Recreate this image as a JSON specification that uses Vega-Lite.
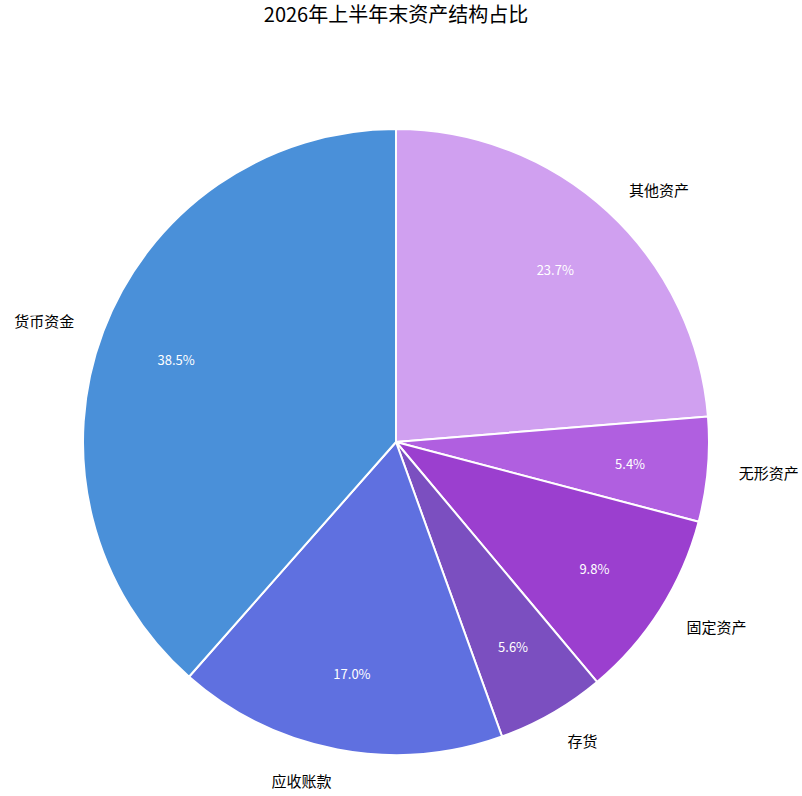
{
  "$schema": "https://vega.github.io/schema/vega-lite/v6.json",
  "width": 792,
  "height": 708,
  "autosize": {"type": "none"},
  "padding": {"left": 0, "top": 88, "right": 10, "bottom": 0},
  "background": "white",
  "title": {
    "text": "2026年上半年末资产结构占比",
    "font": "Noto Sans CJK SC",
    "fontSize": 20,
    "fontWeight": "normal",
    "color": "#000000",
    "anchor": "middle",
    "offset": 62
  },
  "data": {
    "values": [
      {"项目": "其他资产", "占比": 0.237, "序号": 1},
      {"项目": "无形资产", "占比": 0.054, "序号": 2},
      {"项目": "固定资产", "占比": 0.098, "序号": 3},
      {"项目": "存货", "占比": 0.056, "序号": 4},
      {"项目": "应收账款", "占比": 0.170, "序号": 5},
      {"项目": "货币资金", "占比": 0.385, "序号": 6}
    ]
  },
  "encoding": {
    "theta": {"field": "占比", "type": "quantitative", "stack": true},
    "order": {"field": "序号", "type": "quantitative"}
  },
  "layer": [
    {
      "mark": {"type": "arc", "outerRadius": 313, "stroke": "white", "strokeWidth": 2},
      "encoding": {
        "color": {
          "field": "项目",
          "type": "nominal",
          "scale": {
            "domain": ["货币资金", "应收账款", "存货", "固定资产", "无形资产", "其他资产"],
            "range": ["#4a90d9", "#5f70e0", "#7b4fc0", "#9b3fcf", "#b05fe0", "#d0a0f0"]
          },
          "legend": null
        }
      }
    },
    {
      "mark": {"type": "text", "radius": 235, "fill": "white", "font": "Noto Sans CJK SC", "fontSize": 13, "baseline": "middle", "align": "center", "dy": 2},
      "encoding": {
        "detail": {"field": "项目", "type": "nominal"},
        "text": {"field": "占比", "type": "quantitative", "format": ".1%"}
      }
    },
    {
      "mark": {
        "type": "text",
        "radius": 344,
        "fill": "black",
        "font": "Noto Sans CJK SC",
        "fontSize": 15,
        "baseline": "middle",
        "dy": 2,
        "align": {"expr": "indexof(['货币资金','应收账款'], datum['项目']) >= 0 ? 'right' : 'left'"}
      },
      "encoding": {
        "detail": {"field": "项目", "type": "nominal"},
        "text": {"field": "项目", "type": "nominal"}
      }
    }
  ],
  "config": {"view": {"stroke": null}}
}
